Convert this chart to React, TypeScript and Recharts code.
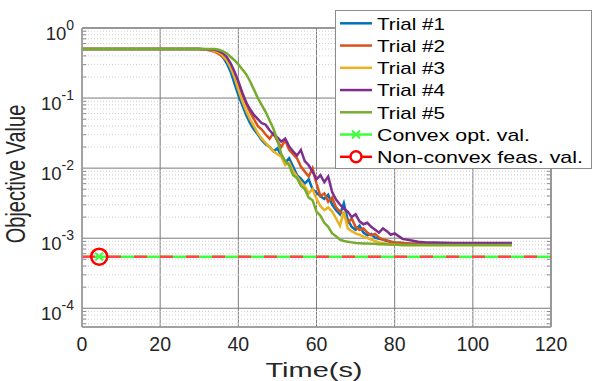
import { CartesianGrid, Line, LineChart, ReferenceLine, XAxis, YAxis } from "recharts";

const FONT = '"Liberation Sans", Arial, Helvetica, sans-serif';

// time grid (s), shared by the five trials
const TIME = [
  0, 10, 20, 28, 30, 32,
  34, 35, 36, 37, 38, 39, 40, 41, 42, 43,
  44, 45, 46, 47, 48, 49, 50, 51, 52, 53,
  54, 55, 56, 57, 58, 59, 60, 61, 62, 63,
  64, 65, 66, 67, 68, 69, 70, 71, 72, 73,
  74, 75, 76, 77, 78, 79, 80,
  82, 84, 86, 88, 90, 95, 100, 105, 110,
];

const TRIAL_1 = [
  0.5, 0.5, 0.5, 0.5, 0.5, 0.495,
  0.468, 0.437, 0.389, 0.316, 0.24, 0.162, 0.11, 0.0794, 0.0575, 0.0437,
  0.0355, 0.0302, 0.0251, 0.0219, 0.02, 0.0174, 0.0191, 0.0151, 0.012, 0.0138,
  0.0105, 7.94e-3, 7.08e-3, 6.03e-3, 6.92e-3, 5.01e-3, 4.47e-3, 3.98e-3, 3.63e-3, 4.17e-3,
  3.02e-3, 2.51e-3, 2.19e-3, 3.16e-3, 1.82e-3, 1.45e-3, 1.32e-3, 1.51e-3, 1.2e-3, 1.1e-3,
  1.15e-3, 1.02e-3, 9.77e-4, 9.55e-4, 9.12e-4, 8.91e-4, 8.71e-4,
  8.51e-4, 8.32e-4, 8.32e-4, 8.13e-4, 8.13e-4, 8.1e-4, 8.1e-4, 8.1e-4, 8.1e-4,
];

const TRIAL_2 = [
  0.5, 0.5, 0.5, 0.5, 0.5, 0.49,
  0.457, 0.427, 0.389, 0.347, 0.295, 0.224, 0.158, 0.112, 0.0832, 0.0631,
  0.0501, 0.0398, 0.0355, 0.0302, 0.0263, 0.0316, 0.024, 0.02, 0.0251, 0.0182,
  0.0158, 0.0138, 0.0105, 8.91e-3, 7.59e-3, 0.01, 6.03e-3, 3.98e-3, 4.37e-3, 3.31e-3,
  3.8e-3, 2.75e-3, 2.4e-3, 2.19e-3, 1.66e-3, 1.91e-3, 1.45e-3, 1.32e-3, 1.38e-3, 1.2e-3,
  1.1e-3, 1.15e-3, 1.02e-3, 9.55e-4, 9.33e-4, 8.91e-4, 8.71e-4,
  8.51e-4, 8.32e-4, 8.32e-4, 8.13e-4, 8.13e-4, 8.1e-4, 8.1e-4, 8.1e-4, 8.1e-4,
];

const TRIAL_3 = [
  0.5, 0.5, 0.5, 0.5, 0.5, 0.495,
  0.468, 0.447, 0.407, 0.347, 0.275, 0.2, 0.132, 0.0912, 0.0661, 0.0501,
  0.0398, 0.0316, 0.0263, 0.0229, 0.02, 0.0174, 0.0158, 0.0145, 0.011, 0.012,
  9.12e-3, 7.59e-3, 6.31e-3, 5.5e-3, 4.37e-3, 5.01e-3, 3.63e-3, 2.88e-3, 2.51e-3, 2.75e-3,
  2.4e-3, 1.91e-3, 1.51e-3, 2.4e-3, 1.38e-3, 1.26e-3, 1.17e-3, 1.12e-3, 1.05e-3, 1e-3,
  9.55e-4, 9.12e-4, 8.71e-4, 8.51e-4, 8.32e-4, 8.13e-4, 8.13e-4,
  7.9e-4, 7.9e-4, 7.9e-4, 7.9e-4, 7.9e-4, 7.9e-4, 7.9e-4, 7.9e-4, 7.9e-4,
];

const TRIAL_4 = [
  0.5, 0.5, 0.5, 0.5, 0.5, 0.499,
  0.49, 0.468, 0.437, 0.389, 0.316, 0.24, 0.174, 0.12, 0.0871, 0.0692,
  0.0575, 0.0501, 0.0437, 0.0417, 0.0347, 0.0302, 0.0275, 0.024, 0.0263, 0.0204,
  0.0174, 0.0151, 0.0182, 0.0126, 0.011, 8.91e-3, 6.92e-3, 7.94e-3, 6.31e-3, 7.59e-3,
  4.57e-3, 3.55e-3, 3.02e-3, 2.63e-3, 2.4e-3, 2e-3, 2.19e-3, 1.74e-3, 1.58e-3, 1.66e-3,
  1.45e-3, 1.32e-3, 1.2e-3, 1.38e-3, 1.26e-3, 1.12e-3, 1.17e-3,
  9.77e-4, 9.33e-4, 8.91e-4, 8.71e-4, 8.71e-4, 8.51e-4, 8.51e-4, 8.51e-4, 8.51e-4,
];

const TRIAL_5 = [
  0.5, 0.5, 0.5, 0.5, 0.5, 0.5,
  0.5, 0.49, 0.468, 0.437, 0.389, 0.347, 0.302, 0.257, 0.219, 0.174,
  0.132, 0.1, 0.0794, 0.0631, 0.0479, 0.0363, 0.0251, 0.0158, 0.0126, 0.011,
  7.94e-3, 7.24e-3, 5.62e-3, 5.01e-3, 3.8e-3, 3.47e-3, 2.4e-3, 2.09e-3, 1.66e-3, 1.45e-3,
  1.17e-3, 1.07e-3, 9.55e-4, 9.12e-4, 8.91e-4, 8.71e-4, 8.51e-4, 8.5e-4, 8.4e-4, 8.4e-4,
  8.3e-4, 8.3e-4, 8.2e-4, 8.2e-4, 8.1e-4, 8.1e-4, 8.1e-4,
  8e-4, 8e-4, 8e-4, 8e-4, 8e-4, 8e-4, 8e-4, 8e-4, 8e-4,
];

// reference values (horizontal lines), marker drawn at the middle point
const REF_TIME = [0, 4.4, 120];
const CONVEX_VAL = [5.45e-4, 5.45e-4, 5.45e-4];
const NONCONVEX_VAL = [5.45e-4, 5.45e-4, 5.45e-4];

const X_TICKS = [0, 20, 40, 60, 80, 100, 120];
const Y_TICKS = [1e-4, 1e-3, 1e-2, 1e-1, 1];
const Y_MIN = 5.4e-5;

const TRIALS = [
  { key: "trial1", name: "Trial #1", color: "#0072BD", values: TRIAL_1 },
  { key: "trial2", name: "Trial #2", color: "#D95319", values: TRIAL_2 },
  { key: "trial3", name: "Trial #3", color: "#EDB120", values: TRIAL_3 },
  { key: "trial4", name: "Trial #4", color: "#7E2F8E", values: TRIAL_4 },
  { key: "trial5", name: "Trial #5", color: "#77AC30", values: TRIAL_5 },
];

const GREEN = "#3cff3c";
const RED = "#ff4545";

const rows = TIME.map((t, i) => {
  const r: Record<string, number> = { t };
  TRIALS.forEach((s) => (r[s.key] = s.values[i]));
  return r;
});
const convexRows = REF_TIME.map((t, i) => ({ t, v: CONVEX_VAL[i] }));
const nonconvexRows = REF_TIME.map((t, i) => ({ t, v: NONCONVEX_VAL[i] }));

// minor log positions (2..9 x decade) for dotted grid + small ticks
const MINOR: number[] = [];
for (let d = -5; d <= -1; d++) {
  for (let m = 2; m <= 9; m++) {
    const v = m * Math.pow(10, d);
    if (v > Y_MIN && v < 1) MINOR.push(v);
  }
}

function YTick({ y, payload }: any) {
  const exp = Math.round(Math.log10(payload.value));
  return (
    <text x={74} y={y + 11.7} textAnchor="end" fontFamily={FONT} fontSize={18.5} fill="#262626">
      10
      <tspan fontSize={14} dy={-10}>
        {exp}
      </tspan>
    </text>
  );
}

function XTick({ x, payload }: any) {
  return (
    <text x={x} y={350.7} textAnchor="middle" fontFamily={FONT} fontSize={19.5} fill="#262626">
      {payload.value}
    </text>
  );
}

function CrossMark({ cx, cy, s }: { cx: number; cy: number; s: number }) {
  return (
    <g stroke={GREEN} strokeWidth={2}>
      <line x1={cx - s} y1={cy - s} x2={cx + s} y2={cy + s} />
      <line x1={cx - s} y1={cy + s} x2={cx + s} y2={cy - s} />
    </g>
  );
}

const convexDot = (p: any) =>
  p.index === 1 ? (
    <g key="cvx-dot">
      <CrossMark cx={p.cx} cy={p.cy} s={4} />
    </g>
  ) : (
    <g key={`cvx-${p.index}`} />
  );

const nonconvexDot = (p: any) =>
  p.index === 1 ? (
    <circle key="ncv-dot" cx={p.cx} cy={p.cy} r={8} fill="none" stroke="#ff0000" strokeWidth={2.5} />
  ) : (
    <g key={`ncv-${p.index}`} />
  );

const LEGEND_ROWS = [
  ...TRIALS.map((s) => ({ name: s.name, color: s.color, kind: "line", len: 68 })),
  { name: "Convex opt. val.", color: GREEN, kind: "cross", len: 153 },
  { name: "Non-convex feas. val.", color: "#ff0000", kind: "circle", len: 206 },
];

function LegendBox() {
  return (
    <svg width={609} height={381} style={{ position: "absolute", left: 0, top: 0, pointerEvents: "none" }}>
      <rect x={335.5} y={10.5} width={256} height={158} fill="#fff" stroke="#8c8c8c" strokeWidth={1} />
      {LEGEND_ROWS.map((r, i) => {
        const yc = 23.3 + i * 22.25;
        return (
          <g key={r.name}>
            <line x1={340} x2={372} y1={yc} y2={yc} stroke={r.color} strokeWidth={2.5} />
            {r.kind === "cross" && <CrossMark cx={356} cy={yc} s={4} />}
            {r.kind === "circle" && (
              <circle cx={356} cy={yc} r={5.5} fill="#fff" stroke="#ff0000" strokeWidth={2.5} />
            )}
            <text
              x={377}
              y={yc + 6.2}
              fontFamily={FONT}
              fontSize={17}
              fill="#000"
              textLength={r.len}
              lengthAdjust="spacingAndGlyphs"
            >
              {r.name}
            </text>
          </g>
        );
      })}
    </svg>
  );
}

export default function App() {
  return (
    <div style={{ position: "absolute", left: 0, top: 0, width: 609, height: 381, background: "#fff" }}>
      <LineChart width={609} height={381} data={rows} margin={{ top: 28, right: 58, bottom: 0, left: 0 }}>
        <CartesianGrid stroke="#7a7a7a" strokeWidth={1} />
        {MINOR.map((v) => (
          <ReferenceLine key={`mg${v}`} y={v} stroke="#cfcfcf" strokeDasharray="1 2" />
        ))}
        {MINOR.map((v) => (
          <ReferenceLine
            key={`ml${v}`}
            segment={[
              { x: 0, y: v },
              { x: 1.1, y: v },
            ]}
            stroke="#8c8c8c"
          />
        ))}
        {MINOR.map((v) => (
          <ReferenceLine
            key={`mr${v}`}
            segment={[
              { x: 118.9, y: v },
              { x: 120, y: v },
            ]}
            stroke="#8c8c8c"
          />
        ))}
        <ReferenceLine y={1} stroke="#8c8c8c" strokeWidth={1.5} />
        <ReferenceLine x={120} stroke="#8c8c8c" strokeWidth={1.5} />
        <XAxis
          dataKey="t"
          type="number"
          domain={[0, 120]}
          ticks={X_TICKS}
          tick={<XTick />}
          tickLine={false}
          axisLine={{ stroke: "#9a9a9a", strokeWidth: 1.5 }}
          height={54}
          allowDataOverflow
          label={{
            content: () => (
              <text
                x={314}
                y={376.5}
                textAnchor="middle"
                fontFamily={FONT}
                fontSize={21}
                fill="#262626"
                textLength={97}
                lengthAdjust="spacingAndGlyphs"
              >
                Time(s)
              </text>
            ),
          }}
        />
        <YAxis
          type="number"
          scale="log"
          domain={[Y_MIN, 1]}
          ticks={Y_TICKS}
          tick={<YTick />}
          tickLine={false}
          axisLine={{ stroke: "#9a9a9a", strokeWidth: 1.5 }}
          width={82}
          allowDataOverflow
          label={{
            content: () => (
              <text
                transform="translate(25,174) rotate(-90) scale(1,1.35)"
                textAnchor="middle"
                fontFamily={FONT}
                fontSize={20}
                fill="#262626"
              >
                Objective Value
              </text>
            ),
          }}
        />
        {TRIALS.map((s) => (
          <Line
            key={s.key}
            type="linear"
            dataKey={s.key}
            stroke={s.color}
            strokeWidth={2.5}
            dot={false}
            isAnimationActive={false}
          />
        ))}
        <Line
          data={convexRows}
          dataKey="v"
          type="linear"
          stroke={GREEN}
          strokeWidth={2.5}
          dot={convexDot}
          isAnimationActive={false}
        />
        <Line
          data={nonconvexRows}
          dataKey="v"
          type="linear"
          stroke={RED}
          strokeWidth={2.5}
          strokeDasharray="13 13"
          dot={nonconvexDot}
          isAnimationActive={false}
        />
      </LineChart>
      <LegendBox />
    </div>
  );
}
